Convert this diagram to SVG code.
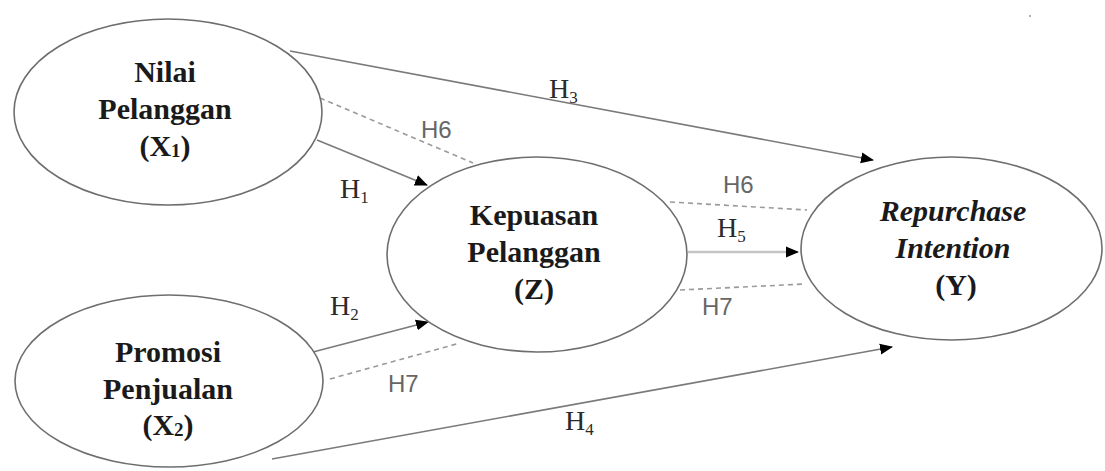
<svg xmlns="http://www.w3.org/2000/svg" width="1105" height="471" viewBox="0 0 1105 471">
<style>
.node{fill:#fff;stroke:#6e6e6e;stroke-width:1.6}
.t{font-family:'Liberation Serif','Tinos','DejaVu Serif',serif;font-weight:bold;font-size:30px;fill:#1a1a1a;text-anchor:middle}
.it{font-style:italic}
.h{font-family:'Liberation Serif','Tinos','DejaVu Serif',serif;font-size:28px;fill:#2a2a2a}
.hs{font-family:'Liberation Sans',Arial,sans-serif;font-size:24px;fill:#666}
.ln{fill:none;stroke:#7a7a7a;stroke-width:1.6}
.dash{fill:none;stroke:#9a9a9a;stroke-width:1.6;stroke-dasharray:5 4}
.light{fill:none;stroke:#c4c4c4;stroke-width:2.4}
</style>
<defs>
<marker id="arr" markerUnits="userSpaceOnUse" markerWidth="14" markerHeight="12" refX="12" refY="6" orient="auto">
<path d="M0,0.5 L13,6 L0,11.5 Z" fill="#000"/>
</marker>
</defs>
<circle cx="1030" cy="16" r="1" fill="#999"/>
<g id="connectors">
<line class="ln" x1="290" y1="51" x2="873" y2="160" marker-end="url(#arr)"/>
<line class="ln" x1="317" y1="140" x2="427" y2="185" marker-end="url(#arr)"/>
<line class="dash" x1="320" y1="98" x2="473" y2="163"/>
<line class="ln" x1="313" y1="352" x2="428" y2="322" marker-end="url(#arr)"/>
<line class="dash" x1="330" y1="379" x2="460" y2="343"/>
<line class="ln" x1="272" y1="459" x2="892" y2="347" marker-end="url(#arr)"/>
<line class="light" x1="688" y1="252" x2="798" y2="252" marker-end="url(#arr)"/>
<line class="dash" x1="670" y1="202" x2="807" y2="210"/>
<line class="dash" x1="680" y1="290" x2="805" y2="284"/>
<text class="h" x="549" y="98">H<tspan font-size="17" dy="5">3</tspan></text>
<text class="h" x="340" y="198">H<tspan font-size="17" dy="5">1</tspan></text>
<text class="h" x="330" y="315">H<tspan font-size="17" dy="5">2</tspan></text>
<text class="h" x="565" y="430">H<tspan font-size="17" dy="5">4</tspan></text>
<text class="h" x="717" y="237">H<tspan font-size="17" dy="5">5</tspan></text>
<text class="hs" x="421" y="138">H6</text>
<text class="hs" x="723" y="193">H6</text>
<text class="hs" x="702" y="315">H7</text>
<text class="hs" x="388" y="392">H7</text>
</g>
<g id="nilai-pelanggan">
<ellipse class="node" cx="168" cy="112" rx="154" ry="93"/>
<text class="t" x="165" y="82">Nilai</text>
<text class="t" x="165" y="119">Pelanggan</text>
<text class="t" x="165" y="156">(X<tspan font-size="19" dy="1">1</tspan><tspan dy="-1">)</tspan></text>
</g>
<g id="promosi-penjualan">
<ellipse class="node" cx="169" cy="381" rx="154" ry="86"/>
<text class="t" x="168" y="362">Promosi</text>
<text class="t" x="168" y="399">Penjualan</text>
<text class="t" x="168" y="435">(X<tspan font-size="19" dy="1">2</tspan><tspan dy="-1">)</tspan></text>
</g>
<g id="kepuasan-pelanggan">
<ellipse class="node" cx="537" cy="254.5" rx="150" ry="97.5"/>
<text class="t" x="534" y="225">Kepuasan</text>
<text class="t" x="534" y="262">Pelanggan</text>
<text class="t" x="534" y="299">(Z)</text>
</g>
<g id="repurchase-intention">
<ellipse class="node" cx="951.5" cy="248.5" rx="150.5" ry="91.5"/>
<text class="t it" x="953" y="221">Repurchase</text>
<text class="t it" x="953" y="258">Intention</text>
<text class="t" x="956" y="295">(Y)</text>
</g>
</svg>
